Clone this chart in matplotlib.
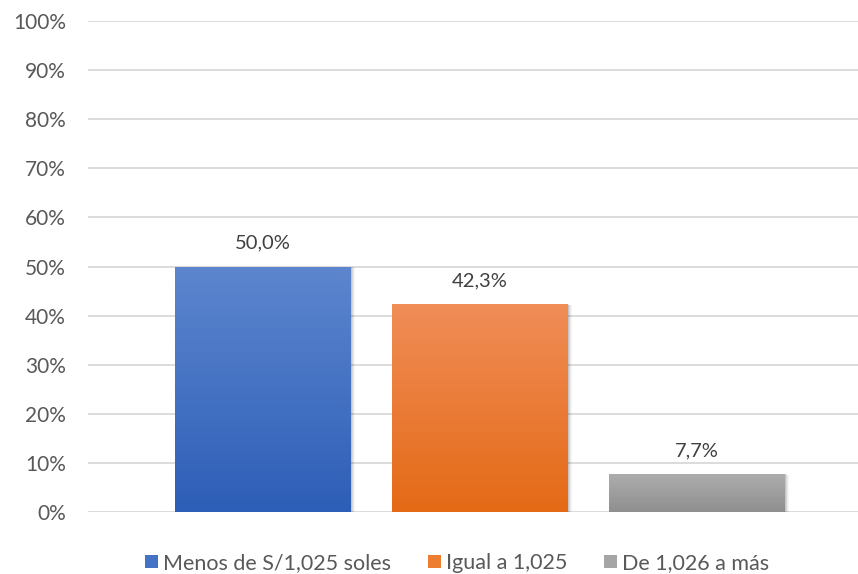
import numpy as np
import matplotlib
matplotlib.use("Agg")
import matplotlib.pyplot as plt
from matplotlib.colors import LinearSegmentedColormap
from matplotlib.patches import Rectangle, Patch

categories = ["Menos de S/1,025 soles", "Igual a 1,025", "De 1,026 a más"]
values = [50.0, 42.3, 7.7]
value_labels = ["50,0%", "42,3%", "7,7%"]
yticks = [0, 10, 20, 30, 40, 50, 60, 70, 80, 90, 100]
ytick_labels = [f"{t}%" for t in yticks]

# top / bottom colours of each bar's vertical gradient
grad_top = ["#5D86CE", "#F08D58", "#ADADAD"]
grad_bottom = ["#2D5EB7", "#E46A16", "#8F8F8F"]
legend_colors = ["#4472C4", "#ED7D31", "#A5A5A5"]

plt.rcParams["font.family"] = ["Lato", "DejaVu Sans"]
text_color = "#595959"

fig = plt.figure(figsize=(8.58, 5.74), dpi=100)
ax = fig.add_axes([0.1026, 0.108, 0.8974, 0.8554])

x = np.arange(len(categories))
width = 0.811
bars = ax.bar(x, values, width=width, color="none", edgecolor="none", zorder=3)

grad = np.linspace(0, 1, 256).reshape(-1, 1)
for i, b in enumerate(bars):
    x0, y0 = b.get_x(), b.get_y()
    w, h = b.get_width(), b.get_height()
    # soft drop shadow
    for k in range(6):
        off = 0.004 + k * 0.0025
        sh = Rectangle((x0 + off, y0 - off * 4.5), w, h, facecolor="black",
                       edgecolor="none", alpha=0.04, zorder=2)
        ax.add_patch(sh)
    cmap = LinearSegmentedColormap.from_list(f"g{i}", [grad_bottom[i], grad_top[i]])
    im = ax.imshow(grad, cmap=cmap, aspect="auto", origin="lower",
                   extent=(x0, x0 + w, y0, y0 + h), zorder=3)
    clip = Rectangle((x0, y0), w, h, transform=ax.transData)
    im.set_clip_path(clip)
    ax.text(b.get_x() + w / 2, h + 3.0, value_labels[i], ha="center", va="bottom",
            fontsize=14.5, color="#404040", zorder=4)

ax.set_xlim(-0.806, 2.742)
ax.set_ylim(0, 100)
ax.set_yticks(yticks)
ax.set_yticklabels(ytick_labels)
ax.set_xticks([])
ax.yaxis.grid(True, color="#D9D9D9", linewidth=1.3, zorder=0)
ax.set_axisbelow(True)
for s in ax.spines.values():
    s.set_visible(False)
ax.tick_params(axis="y", length=0, pad=16, labelsize=15, labelcolor=text_color)

handles = [Patch(facecolor=c, edgecolor="none") for c in legend_colors]
fig.legend(handles, categories, loc="center", bbox_to_anchor=(0.533, 0.019),
           ncol=3, frameon=False, fontsize=15.5, handlelength=0.6, handleheight=0.6,
           handletextpad=0.25, columnspacing=1.7, labelcolor=text_color,
           borderaxespad=0)

fig.savefig("out.png", dpi=100, facecolor="white")
